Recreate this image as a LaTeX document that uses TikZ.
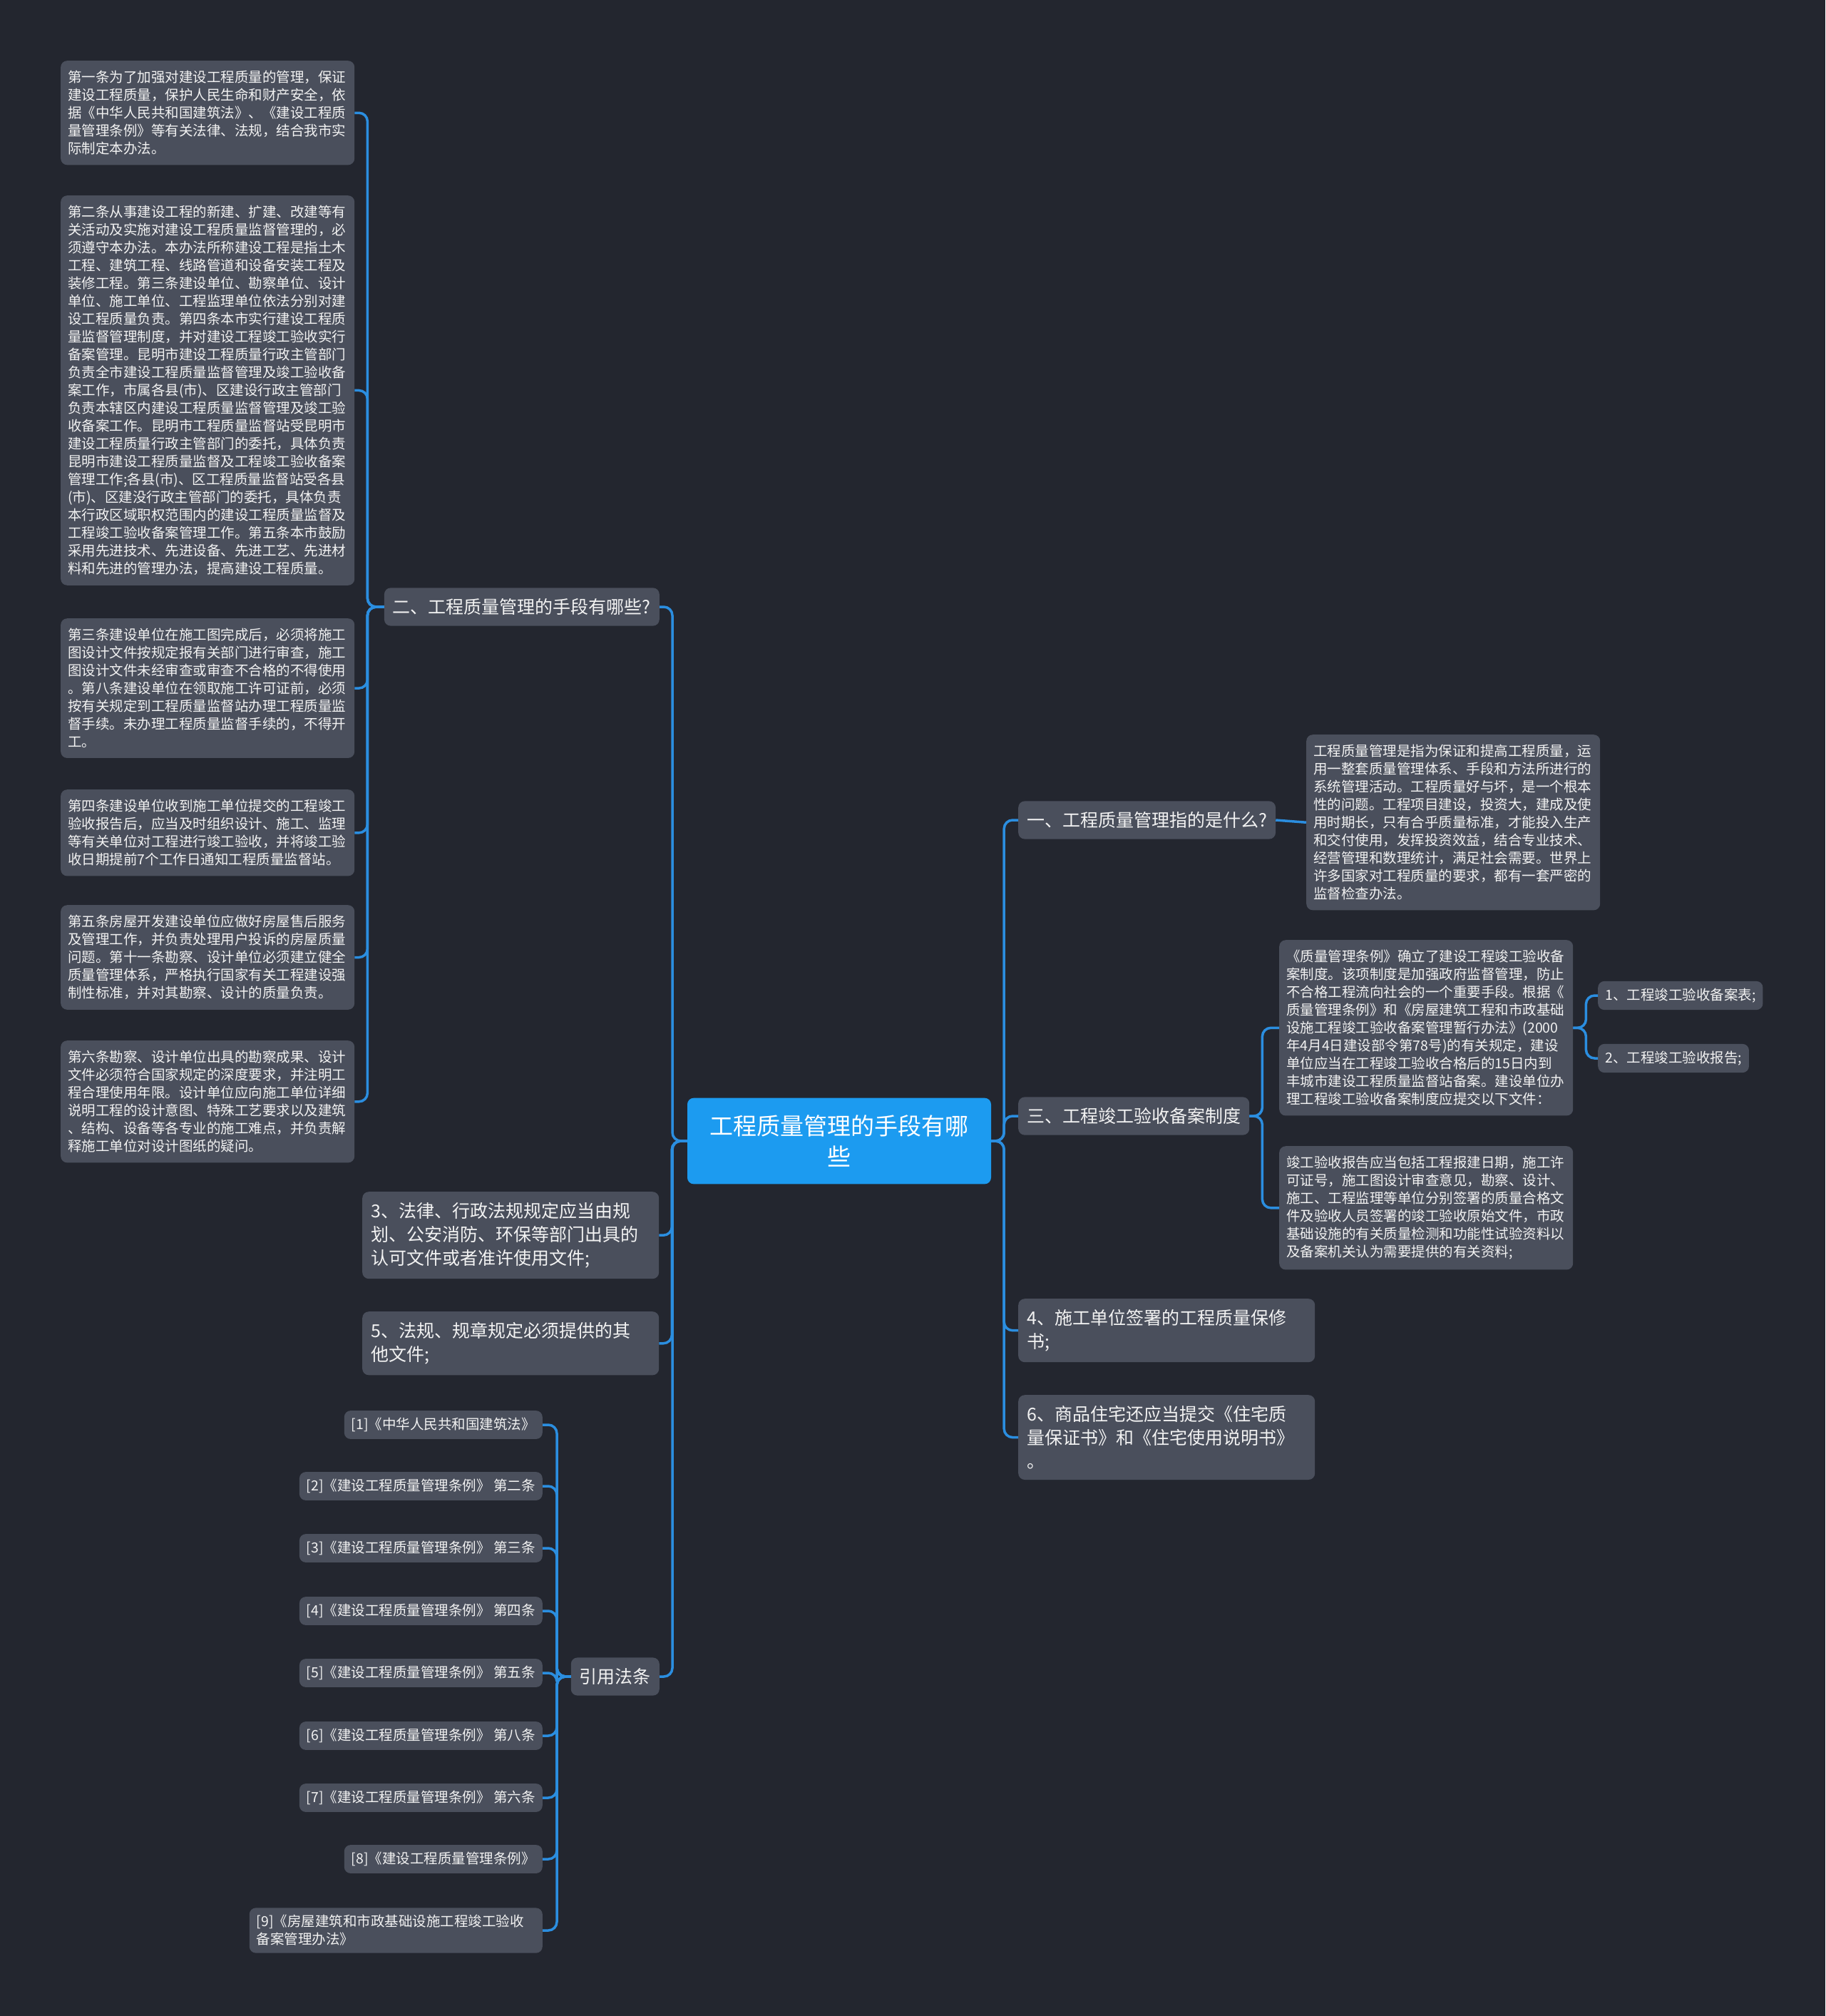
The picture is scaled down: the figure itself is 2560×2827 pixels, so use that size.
\documentclass[tikz,border=0pt]{standalone}
\usepackage{fontspec}
\setmainfont{Noto Sans CJK SC}

\definecolor{cBg}{HTML}{23262F}
\definecolor{cNode}{HTML}{4A4F5C}
\definecolor{cMain}{HTML}{1C9BF0}
\definecolor{cLink}{HTML}{2B8EE0}
\definecolor{cText}{HTML}{F2F2F2}

\tikzset{
  box/.style={fill=cNode, text=cText, rounded corners=9pt},
  mainbox/.style={fill=cMain, text=white, rounded corners=9pt, font=\fontsize{33pt}{43pt}\selectfont,
    align=center, text width=390pt, inner xsep=18pt, inner ysep=24pt},
  topic/.style={box, font=\fontsize{25pt}{33pt}\selectfont, align=left, inner xsep=12pt, inner ysep=15pt},
  topicwide/.style={topic, text width=392pt, anchor=north west},
  leaf/.style={box, font=\fontsize{19.5pt}{25pt}\selectfont, align=left, text width=392pt,
    inner xsep=10pt, inner ysep=14pt, anchor=north west},
  ref/.style={box, font=\fontsize{19.5pt}{25pt}\selectfont, align=left, inner xsep=10pt, inner ysep=10pt, anchor=east},
  link/.style={draw=cLink, line width=3.5pt, rounded corners=12pt}
}

\begin{document}
\begin{tikzpicture}[x=1pt, y=-1pt]
% sfondo
\fill[cBg] (0,0) rectangle (2560,2827);

% nodo centrale
\node[mainbox] (main) at (1177,1600) {工程质量管理的手段有哪\\些};

% rami a destra
\node[topic, anchor=west] (t1) at (1428,1150) {一、工程质量管理指的是什么?};
\node[topic, anchor=west] (t3r) at (1428,1565) {三、工程竣工验收备案制度};
\node[topicwide] (t4) at (1428,1821) {4、施工单位签署的工程质量保修\\书;};
\node[topicwide] (t6) at (1428,1956) {6、商品住宅还应当提交《住宅质\\量保证书》和《住宅使用说明书》\\。};

\node[leaf] (d1) at (1832,1030) {工程质量管理是指为保证和提高工程质量，运\\
用一整套质量管理体系、手段和方法所进行的\\
系统管理活动。工程质量好与坏，是一个根本\\
性的问题。工程项目建设，投资大，建成及使\\
用时期长，只有合乎质量标准，才能投入生产\\
和交付使用，发挥投资效益，结合专业技术、\\
经营管理和数理统计，满足社会需要。世界上\\
许多国家对工程质量的要求，都有一套严密的\\
监督检查办法。};

\node[leaf] (d3a) at (1794,1318) {《质量管理条例》确立了建设工程竣工验收备\\
案制度。该项制度是加强政府监督管理，防止\\
不合格工程流向社会的一个重要手段。根据《\\
质量管理条例》和《房屋建筑工程和市政基础\\
设施工程竣工验收备案管理暂行办法》(2000\\
年4月4日建设部令第78号)的有关规定，建设\\
单位应当在工程竣工验收合格后的15日内到\\
丰城市建设工程质量监督站备案。建设单位办\\
理工程竣工验收备案制度应提交以下文件：};

\node[leaf] (d3b) at (1794,1607) {竣工验收报告应当包括工程报建日期，施工许\\
可证号，施工图设计审查意见，勘察、设计、\\
施工、工程监理等单位分别签署的质量合格文\\
件及验收人员签署的竣工验收原始文件，市政\\
基础设施的有关质量检测和功能性试验资料以\\
及备案机关认为需要提供的有关资料;};

\node[ref, anchor=west] (f1) at (2241,1396) {1、工程竣工验收备案表;};
\node[ref, anchor=west] (f2) at (2241,1484) {2、工程竣工验收报告;};

% rami a sinistra
\node[topic, anchor=east] (t2) at (925,851) {二、工程质量管理的手段有哪些?};
\node[topicwide] (t3) at (508,1671) {3、法律、行政法规规定应当由规\\划、公安消防、环保等部门出具的\\认可文件或者准许使用文件;};
\node[topicwide] (t5) at (508,1839) {5、法规、规章规定必须提供的其\\他文件;};
\node[topic, anchor=east] (tref) at (925,2351) {引用法条};

\node[leaf] (a1) at (85,85) {第一条为了加强对建设工程质量的管理，保证\\
建设工程质量，保护人民生命和财产安全，依\\
据《中华人民共和国建筑法》、《建设工程质\\
量管理条例》等有关法律、法规，结合我市实\\
际制定本办法。};

\node[leaf] (a2) at (85,274) {第二条从事建设工程的新建、扩建、改建等有\\
关活动及实施对建设工程质量监督管理的，必\\
须遵守本办法。本办法所称建设工程是指土木\\
工程、建筑工程、线路管道和设备安装工程及\\
装修工程。第三条建设单位、勘察单位、设计\\
单位、施工单位、工程监理单位依法分别对建\\
设工程质量负责。第四条本市实行建设工程质\\
量监督管理制度，并对建设工程竣工验收实行\\
备案管理。昆明市建设工程质量行政主管部门\\
负责全市建设工程质量监督管理及竣工验收备\\
案工作，市属各县(市)、区建设行政主管部门\\
负责本辖区内建设工程质量监督管理及竣工验\\
收备案工作。昆明市工程质量监督站受昆明市\\
建设工程质量行政主管部门的委托，具体负责\\
昆明市建设工程质量监督及工程竣工验收备案\\
管理工作;各县(市)、区工程质量监督站受各县\\
(市)、区建没行政主管部门的委托，具体负责\\
本行政区域职权范围内的建设工程质量监督及\\
工程竣工验收备案管理工作。第五条本市鼓励\\
采用先进技术、先进设备、先进工艺、先进材\\
料和先进的管理办法，提高建设工程质量。};

\node[leaf] (a3) at (85,867) {第三条建设单位在施工图完成后，必须将施工\\
图设计文件按规定报有关部门进行审查，施工\\
图设计文件未经审查或审查不合格的不得使用\\
。第八条建设单位在领取施工许可证前，必须\\
按有关规定到工程质量监督站办理工程质量监\\
督手续。未办理工程质量监督手续的，不得开\\
工。};

\node[leaf] (a4) at (85,1107) {第四条建设单位收到施工单位提交的工程竣工\\
验收报告后，应当及时组织设计、施工、监理\\
等有关单位对工程进行竣工验收，并将竣工验\\
收日期提前7个工作日通知工程质量监督站。};

\node[leaf] (a5) at (85,1269) {第五条房屋开发建设单位应做好房屋售后服务\\
及管理工作，并负责处理用户投诉的房屋质量\\
问题。第十一条勘察、设计单位必须建立健全\\
质量管理体系，严格执行国家有关工程建设强\\
制性标准，并对其勘察、设计的质量负责。};

\node[leaf] (a6) at (85,1459) {第六条勘察、设计单位出具的勘察成果、设计\\
文件必须符合国家规定的深度要求，并注明工\\
程合理使用年限。设计单位应向施工单位详细\\
说明工程的设计意图、特殊工艺要求以及建筑\\
、结构、设备等各专业的施工难点，并负责解\\
释施工单位对设计图纸的疑问。};

% riferimenti
\node[ref] (r1) at (761,1998) {[1]《中华人民共和国建筑法》};
\node[ref] (r2) at (761,2084) {[2]《建设工程质量管理条例》 第二条};
\node[ref] (r3) at (761,2171) {[3]《建设工程质量管理条例》 第三条};
\node[ref] (r4) at (761,2259) {[4]《建设工程质量管理条例》 第四条};
\node[ref] (r5) at (761,2346) {[5]《建设工程质量管理条例》 第五条};
\node[ref] (r6) at (761,2434) {[6]《建设工程质量管理条例》 第八条};
\node[ref] (r7) at (761,2521) {[7]《建设工程质量管理条例》 第六条};
\node[ref] (r8) at (761,2607) {[8]《建设工程质量管理条例》};
\node[ref, text width=391pt] (r9) at (761,2707) {[9]《房屋建筑和市政基础设施工程竣工验收\\备案管理办法》};

% collegamenti a destra
\draw[link] (main.east) -- ++(18,0) |- (t1.west);
\draw[link] (main.east) -- ++(18,0) |- (t3r.west);
\draw[link] (main.east) -- ++(18,0) |- (t4.west);
\draw[link] (main.east) -- ++(18,0) |- (t6.west);
\draw[link] (t1.east) -- (d1.west);
\draw[link] (t3r.east) -- ++(18,0) |- (d3a.west);
\draw[link] (t3r.east) -- ++(18,0) |- (d3b.west);
\draw[link] (d3a.east) -- ++(18,0) |- (f1.west);
\draw[link] (d3a.east) -- ++(18,0) |- (f2.west);

% collegamenti a sinistra
\draw[link] (t2.east) -- ++(18,0) |- (main.west);
\draw[link] (t3.east) -- ++(18,0) |- (main.west);
\draw[link] (t5.east) -- ++(18,0) |- (main.west);
\draw[link] (tref.east) -- ++(18,0) |- (main.west);
\foreach \n in {a1,a2,a3,a4,a5,a6}
  \draw[link] (\n.east) -- ++(18,0) |- (t2.west);
\foreach \n in {r1,r2,r3,r4,r5,r6,r7,r8,r9}
  \draw[link] (\n.east) -- ++(20,0) |- (tref.west);
\end{tikzpicture}
\end{document}
